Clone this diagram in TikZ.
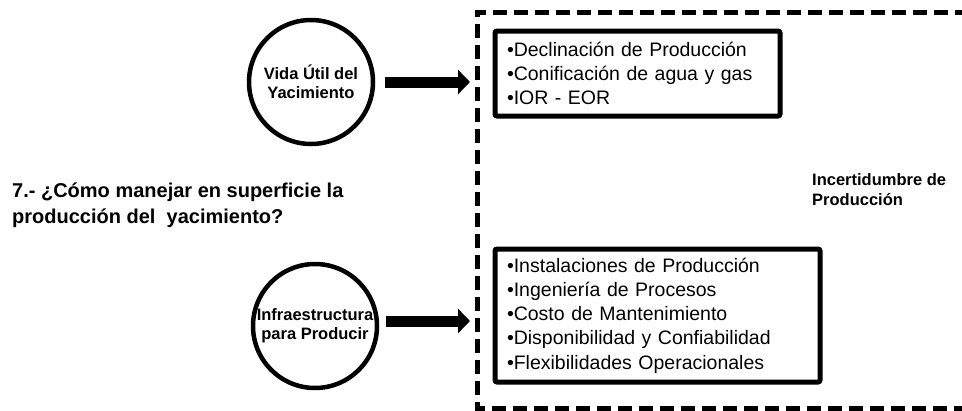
\documentclass[tikz,border=0pt]{standalone}
\usepackage{fontspec}
\setmainfont{Liberation Sans}
\usetikzlibrary{arrows.meta}
\begin{document}
\begin{tikzpicture}[x=1pt,y=-1pt,
  circ/.style={circle, draw, line width=4.5pt, minimum size=124pt, inner sep=0pt, outer sep=0pt,
    font=\fontsize{16.5}{19}\selectfont\bfseries, align=center},
  listbox/.style={draw, line width=5pt, rounded corners=2pt, anchor=north west, outer sep=0pt,
    inner xsep=12pt, inner ysep=0pt, align=left, font=\fontsize{19.5}{24.3}\selectfont},
  fatarrow/.style={line width=11pt, -{Triangle[width=24pt,length=12pt]}},
  frame/.style={line width=5pt, dash pattern=on 14pt off 7pt},
  plain/.style={inner sep=0pt, anchor=west, align=left}
]
\useasboundingbox[fill=white] (0,0) rectangle (962,410);
% dashed frame
\draw[frame] (990,12) -- (477,12) -- (477,408) -- (990,408);
% circles
\node[circ] (v1) at (311,82) {Vida Útil del\\Yacimiento};
\node[circ] (v2) at (315,326) {Infraestructura\\para Producir};
% boxes
\node[listbox, minimum width=285pt, minimum height=85pt, text width=261pt] (b1) at (495,31)
  {•Declinación de Producción\\•Conificación de agua y gas\\•IOR - EOR};
\node[listbox, minimum width=325pt, minimum height=133pt, text width=301pt] (b2) at (495,249)
  {•Instalaciones de Producción\\•Ingeniería de Procesos\\•Costo de Mantenimiento\\•Disponibilidad y Confiabilidad\\•Flexibilidades Operacionales};
% texts
\node[plain, font=\fontsize{20}{26}\selectfont\bfseries] (q) at (12,205)
  {7.- ¿Cómo manejar en superficie la\\producción del\ \ yacimiento?};
\node[plain, font=\fontsize{16.5}{20}\selectfont\bfseries] (inc) at (812,190)
  {Incertidumbre de\\Producción};
% arrows
\coordinate (e1) at (470,82);
\coordinate (e2) at (470,321);
\coordinate (s1) at ([xshift=12pt]v1.east);
\coordinate (s2) at ([xshift=9pt]v2.east);
\draw[fatarrow] (s1 |- e1) -- (e1);
\draw[fatarrow] (s2 |- e2) -- (e2);
\end{tikzpicture}
\end{document}
